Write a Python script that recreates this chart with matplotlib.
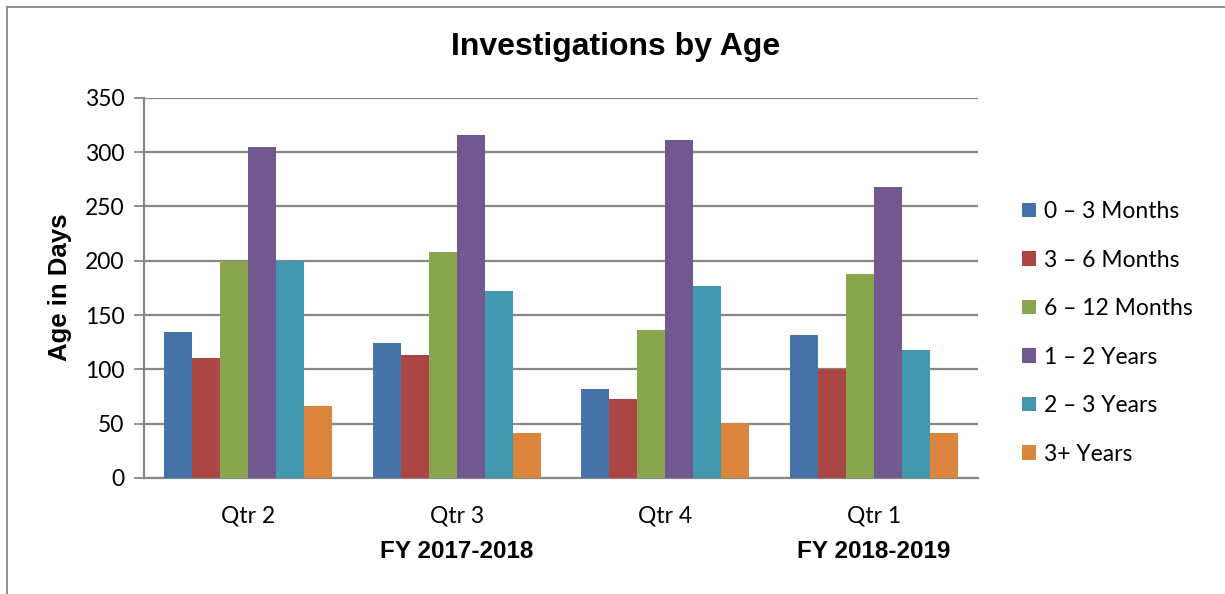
import numpy as np
import matplotlib.pyplot as plt
from matplotlib.lines import Line2D
from matplotlib.transforms import blended_transform_factory

# data
quarters = ['Qtr 2', 'Qtr 3', 'Qtr 4', 'Qtr 1']
fiscal_years = ['FY 2017-2018', 'FY 2018-2019']
fy_span = [(0, 2), (3, 3)]   # first and last quarter index under each FY

series = ['0 – 3 Months', '3 – 6 Months', '6 – 12 Months',
          '1 – 2 Years', '2 – 3 Years', '3+ Years']
m0_3 = [134, 124, 82, 132]
m3_6 = [110, 113, 73, 100]
m6_12 = [200, 208, 136, 188]
y1_2 = [305, 316, 311, 268]
y2_3 = [200, 172, 177, 118]
y3_plus = [66, 41, 51, 41]
values = [m0_3, m3_6, m6_12, y1_2, y2_3, y3_plus]

colors = ['#4572A7', '#AA4643', '#89A54E', '#71588F', '#4198AF', '#DB843D']
grid_gray = '#878787'

plt.rcParams['font.family'] = ['Lato', 'DejaVu Sans']

fig = plt.figure(figsize=(12.25, 5.94), dpi=100)
ax = fig.add_axes([144 / 1225, 116 / 594, 834 / 1225, 380.3 / 594])

x = np.arange(len(quarters))
w = 28 / 208.5
for i, (name, vals) in enumerate(zip(series, values)):
    ax.bar(x + (i - 2.5) * w, vals, width=w, color=colors[i], label=name, zorder=3)

ax.set_xlim(-0.5, len(quarters) - 0.5)
ax.set_ylim(0, 350)
ax.set_yticks(np.arange(0, 351, 50))
ax.yaxis.grid(True, color=grid_gray, linewidth=1.6, zorder=0)
ax.set_axisbelow(True)

for s in ['top', 'right']:
    ax.spines[s].set_visible(False)
for s in ['left', 'bottom']:
    ax.spines[s].set_color(grid_gray)
    ax.spines[s].set_linewidth(1.6)

ax.tick_params(axis='y', length=7, width=1.3, color=grid_gray, labelsize=16.5, pad=7)
ax.tick_params(axis='x', length=0, labelsize=16.5, pad=20)
ax.set_xticks(x)
ax.set_xticklabels(quarters)

# second level of the category axis
trans = blended_transform_factory(ax.transData, fig.transFigure)
for fy, (a, b) in zip(fiscal_years, fy_span):
    ax.text((x[a] + x[b]) / 2, 1 - 552 / 594, fy, transform=trans,
            ha='center', va='center', fontsize=17.5, fontweight='bold',
            family='Liberation Sans')

fig.text(616 / 1225, 1 - 47 / 594, 'Investigations by Age', ha='center', va='center',
         fontsize=23, fontweight='bold', family='Liberation Sans')
fig.text(60 / 1225, 1 - 287 / 594, 'Age in Days', ha='center', va='center',
         rotation=90, fontsize=18.5, fontweight='bold', family='Liberation Sans')

fig.legend(loc='center left', bbox_to_anchor=(1022 / 1225, 1 - 333 / 594),
           frameon=False, fontsize=16.5, handlelength=0.6, handleheight=0.6,
           handletextpad=0.35, labelspacing=1.2, borderpad=0, borderaxespad=0)

# chart frame (only top and left edges are visible in the crop)
fig.add_artist(Line2D([7 / 1225, 1], [1 - 7 / 594, 1 - 7 / 594],
                      transform=fig.transFigure, color=grid_gray, linewidth=1.3))
fig.add_artist(Line2D([7 / 1225, 7 / 1225], [0, 1 - 7 / 594],
                      transform=fig.transFigure, color=grid_gray, linewidth=1.3))

fig.savefig('out.png', dpi=100)
